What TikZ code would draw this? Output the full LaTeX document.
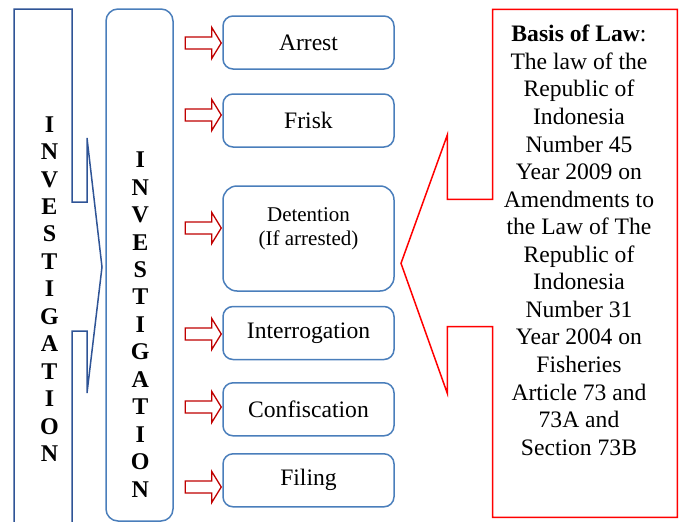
\documentclass[tikz,border=0pt]{standalone}
\usepackage{fontspec}
\setmainfont{Liberation Serif}
\definecolor{navyline}{HTML}{2F5496}
\definecolor{boxblue}{HTML}{4A7EBB}
\definecolor{arrowred}{HTML}{C00000}
\definecolor{lawred}{HTML}{FF0000}
\begin{document}
\begin{tikzpicture}[x=1pt,y=-1pt,
  stepbox/.style={draw=boxblue, line width=1.5pt, rounded corners=10pt,
    minimum width=171pt, minimum height=53pt, inner sep=0pt,
    font=\fontsize{23.6}{27.5}\selectfont},
  vertlabel/.style={align=center, inner sep=0pt,
    font=\bfseries\fontsize{24}{27.45}\selectfont},
  lawtext/.style={align=center, inner sep=0pt,
    font=\fontsize{23.6}{27.55}\selectfont},
  pics/redarrow/.style={code={
    \draw[draw=arrowred, line width=1.3pt, fill=white, line join=miter]
      (-36,-6) -- (-9.5,-6) -- (-9.5,-15.5) -- (0,0) -- (-9.5,15.5)
      -- (-9.5,6) -- (-36,6) -- cycle;}}
]
\useasboundingbox (0,0) rectangle (683,522);

% outer stage: right-pointing callout, running off the bottom edge
\draw[navyline, line width=1.5pt, line join=miter]
  (14,530) -- (14,9) -- (72,9) -- (72,202) -- (87,202) -- (87,138)
  -- (102,267) -- (87,393) -- (87,331) -- (72,331) -- (72,530);
\node[vertlabel] (invA) at (49.5,289)
  {I\\N\\V\\E\\S\\T\\I\\G\\A\\T\\I\\O\\N};

% inner stage column
\node[draw=boxblue, line width=1.5pt, rounded corners=12pt,
      minimum width=67pt, minimum height=512pt, inner sep=0pt]
  (invB) at (139.5,265) {};
\node[vertlabel] (invBtext) at (140.3,324.5)
  {I\\N\\V\\E\\S\\T\\I\\G\\A\\T\\I\\O\\N};

% activity boxes
\node[stepbox] (arrest) at (308.5,42.5) {Arrest};
\node[stepbox] (frisk) at (308.5,120.5) {Frisk};
\node[stepbox, minimum height=105pt, rounded corners=14pt]
  (detention) at (308.5,238.5) {};
\node[align=center, inner sep=0pt, font=\fontsize{21}{24}\selectfont]
  (detentiontext) at (308.5,229) {Detention\\(If arrested)};
\node[stepbox] (interrogation) at (308.5,333) {Interrogation};
\node[stepbox] (confiscation) at (308.5,409.3) {Confiscation};
\node[stepbox] (filing) at (308.5,480.3) {Filing};

% block arrows into each box
\pic[xshift=-1pt] at (arrest.west |- 0,43) {redarrow};
\pic[xshift=-1pt] at (frisk.west |- 0,115) {redarrow};
\pic[xshift=-1pt] at (detention.west |- 0,228) {redarrow};
\pic[xshift=-1pt] at (interrogation.west |- 0,334) {redarrow};
\pic[xshift=-1pt] at (confiscation.west |- 0,407) {redarrow};
\pic[xshift=-1pt] at (filing.west |- 0,487) {redarrow};

% legal basis callout
\draw[lawred, line width=1.5pt, line join=miter]
  (492.7,9.3) -- (677.3,9.3) -- (677.3,517.3) -- (492.7,517.3)
  -- (492.7,326.7) -- (447.3,326.7) -- (447.3,393.3) -- (401,263.3)
  -- (447.3,135) -- (447.3,199.3) -- (492.7,199.3) -- cycle;
\node[lawtext] (law) at (579,240.3)
  {\textbf{Basis of Law}:\\The law of the\\Republic of\\Indonesia\\Number 45\\%
   Year 2009 on\\Amendments to\\the Law of The\\Republic of\\Indonesia\\%
   Number 31\\Year 2004 on\\Fisheries\\Article 73 and\\73A and\\Section 73B};
\end{tikzpicture}
\end{document}
